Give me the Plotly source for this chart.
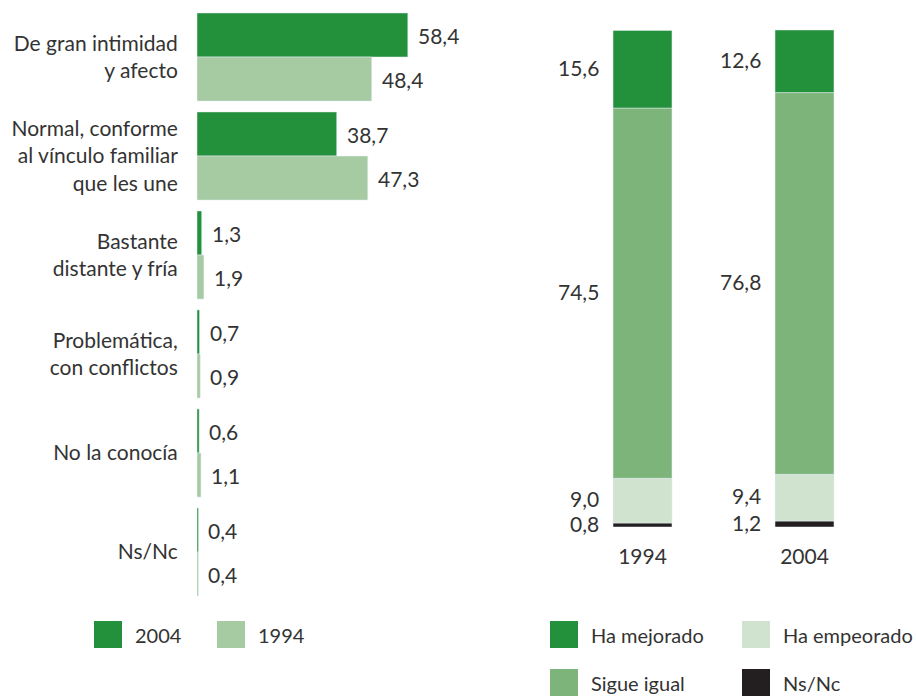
import plotly.graph_objects as go

# --- datos ---
categorias = [
    "De gran intimidad<br>y afecto",
    "Normal, conforme<br>al vínculo familiar<br>que les une",
    "Bastante<br>distante y fría",
    "Problemática,<br>con conflictos",
    "No la conocía",
    "Ns/Nc",
]
valores_2004 = [58.4, 38.7, 1.3, 0.7, 0.6, 0.4]
valores_1994 = [48.4, 47.3, 1.9, 0.9, 1.1, 0.4]

anios = ["1994", "2004"]
ns_nc = [0.8, 1.2]
ha_empeorado = [9.0, 9.4]
sigue_igual = [74.5, 76.8]
ha_mejorado = [15.6, 12.6]

VERDE = "#23903b"
VERDE_CLARO = "#a6cba2"
VERDE_MEDIO = "#7db47a"
VERDE_PALIDO = "#cfe3ce"
NEGRO = "#231f20"
TEXTO = "#333333"
FUENTE = "Lato"
TAM = 21

W, H = 916, 696


def px(x):
    return x / W


def py(y):
    return 1 - y / H


def coma(v):
    return f"{v:.1f}".replace(".", ",")


fig = go.Figure()

# --- barras horizontales (izquierda) ---
fig.add_trace(go.Bar(y=categorias, x=valores_2004, orientation="h",
                     marker_color=VERDE, name="2004", xaxis="x", yaxis="y"))
fig.add_trace(go.Bar(y=categorias, x=valores_1994, orientation="h",
                     marker_color=VERDE_CLARO, name="1994", xaxis="x", yaxis="y"))

anotaciones = []
for cat, v4, v9 in zip(categorias, valores_2004, valores_1994):
    for v, dy in ((v4, 22), (v9, -22)):
        anotaciones.append(dict(
            x=v, y=cat, xref="x", yref="y", text=coma(v),
            xanchor="left", yanchor="middle", xshift=8, yshift=dy, showarrow=False,
            font=dict(family=FUENTE, size=TAM, color=TEXTO)))

# --- barras apiladas (derecha) ---
series = [
    ("Ns/Nc", ns_nc, NEGRO),
    ("Ha empeorado", ha_empeorado, VERDE_PALIDO),
    ("Sigue igual", sigue_igual, VERDE_MEDIO),
    ("Ha mejorado", ha_mejorado, VERDE),
]
base = [0.0] * len(anios)
for nombre, vals, color in series:
    fig.add_trace(go.Bar(x=anios, y=vals, base=list(base), marker_color=color,
                         name=nombre, width=0.364, offsetgroup="derecha",
                         xaxis="x2", yaxis="y2"))
    for i, (a, v) in enumerate(zip(anios, vals)):
        anotaciones.append(dict(
            x=i, y=base[i] + v / 2, xref="x2", yref="y2", text=coma(v),
            xanchor="right", yanchor="middle", xshift=-42, yshift=2, showarrow=False,
            font=dict(family=FUENTE, size=TAM, color=TEXTO)))
    base = [b + v for b, v in zip(base, vals)]

# --- leyendas dibujadas a mano ---
formas = []
leyenda = [
    ("2004", VERDE, 94, 621),
    ("1994", VERDE_CLARO, 217, 621),
    ("Ha mejorado", VERDE, 550, 621),
    ("Ha empeorado", VERDE_PALIDO, 742, 621),
    ("Sigue igual", VERDE_MEDIO, 550, 669),
    ("Ns/Nc", NEGRO, 742, 669),
]
for texto, color, x0, y0 in leyenda:
    formas.append(dict(type="rect", xref="paper", yref="paper",
                       x0=px(x0), x1=px(x0 + 28), y0=py(y0), y1=py(y0 + 27),
                       fillcolor=color, line_width=0))
    anotaciones.append(dict(x=px(x0 + 39), y=py(y0 + 14), xref="paper", yref="paper",
                            text=texto, xanchor="left", yanchor="middle", showarrow=False,
                            font=dict(family=FUENTE, size=20, color=TEXTO)))

fig.update_layout(
    width=W, height=H,
    margin=dict(l=0, r=0, t=0, b=0),
    paper_bgcolor="white", plot_bgcolor="white",
    barmode="group", bargap=0.11, bargroupgap=0,
    showlegend=False,
    font=dict(family=FUENTE, size=TAM, color=TEXTO),
    xaxis=dict(domain=[px(197), px(197 + 70 * 3.61)], range=[0, 70], visible=False,
               automargin=False),
    yaxis=dict(domain=[py(601.5), py(7.5)], autorange="reversed", showgrid=False,
               zeroline=False, showline=False, ticks="outside", ticklen=14,
               tickcolor="rgba(0,0,0,0)", tickfont=dict(size=TAM, color=TEXTO),
               automargin=False),
    xaxis2=dict(domain=[px(561.5), px(885.5)], anchor="y2", type="category",
                range=[-0.5, 1.5], showgrid=False, zeroline=False, showline=False,
                ticks="outside", ticklen=11, tickcolor="rgba(0,0,0,0)",
                tickfont=dict(size=TAM, color=TEXTO), automargin=False),
    yaxis2=dict(domain=[py(527), py(30)], anchor="x2", range=[0, 100], visible=False,
                automargin=False),
    annotations=anotaciones,
    shapes=formas,
)

fig.write_html("out.html", config={"displayModeBar": False},
               post_script="document.body.style.margin='0';")
